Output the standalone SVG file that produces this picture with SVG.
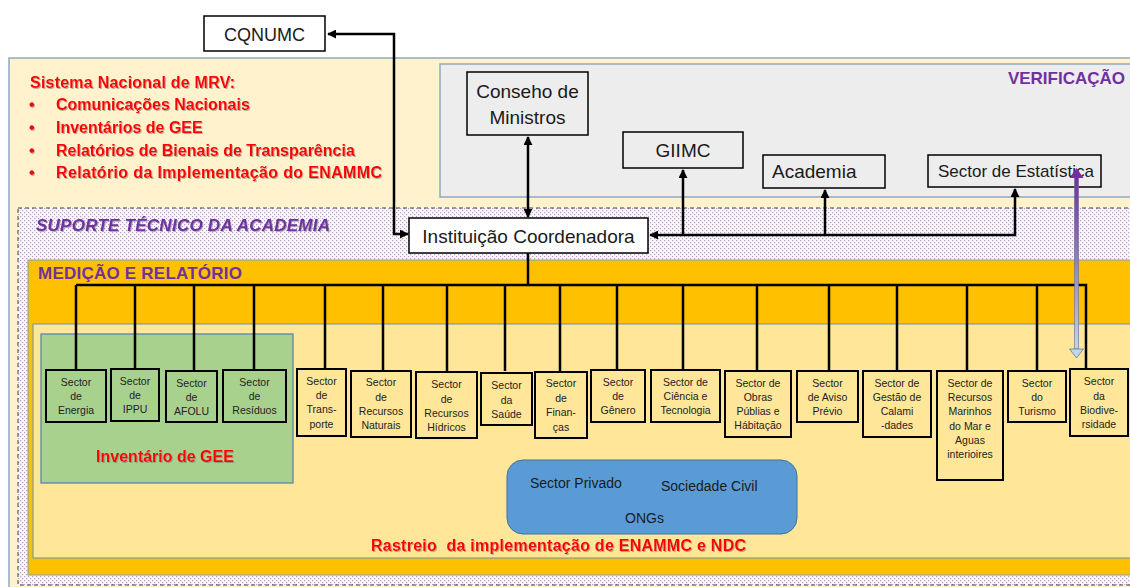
<svg xmlns="http://www.w3.org/2000/svg" width="1130" height="587" viewBox="0 0 1130 587">
<defs>
<style>
.t{font-family:"Liberation Sans",Arial,sans-serif;fill:#1a1a1a}
.big{font-size:19px}
.sec{font-size:10.5px;text-anchor:middle;fill:#222}
.red{font-family:"Liberation Sans",Arial,sans-serif;font-weight:bold;fill:#FF0000;font-size:16px}
.pur{font-family:"Liberation Sans",Arial,sans-serif;font-weight:bold;fill:#7030A0;font-size:17px}
.node{stroke:#000;stroke-width:1.5}
.sbox{stroke:#000;stroke-width:2}
.con{fill:none;stroke:#000;stroke-width:2.5}
.drop{fill:none;stroke:#000;stroke-width:2.5}
</style>
<pattern id="dots" width="4" height="4" patternUnits="userSpaceOnUse">
<rect width="4" height="4" fill="#FBF8FD"/>
<rect x="0" y="0" width="1.2" height="1.2" fill="#B89ACF"/>
<rect x="2" y="2" width="1.2" height="1.2" fill="#B89ACF"/>
</pattern>
<marker id="ah" viewBox="0 0 10 10" refX="9" refY="5" markerUnits="userSpaceOnUse" markerWidth="9" markerHeight="9" orient="auto-start-reverse">
<path d="M0,0 L10,5 L0,10 z" fill="#000"/>
</marker>
<linearGradient id="pg" x1="0" y1="0" x2="0" y2="1">
<stop offset="0" stop-color="#7030A0"/>
<stop offset="0.45" stop-color="#8E7BB8"/>
<stop offset="1" stop-color="#BDD7EE"/>
</linearGradient>
<filter id="sh" x="-5%" y="-20%" width="110%" height="150%">
<feDropShadow dx="1" dy="1" stdDeviation="0.6" flood-color="#777" flood-opacity="0.55"/>
</filter>
</defs>

<g id="backgrounds">
<rect x="9" y="58" width="1130" height="540" fill="#FFF2CC" stroke="#8EA9C1" stroke-width="1.5"/>
<rect x="440" y="64" width="700" height="133" fill="#EDEDED" stroke="#8EA9C1" stroke-width="1.5"/>
<rect x="18" y="208" width="1120" height="377" fill="url(#dots)" stroke="#404040" stroke-width="1" stroke-dasharray="4 3"/>
<rect x="28" y="260" width="1110" height="315" fill="#FFC000" stroke="#7F9DB9" stroke-width="1"/>
<rect x="33" y="324" width="1105" height="234" fill="#FFE699" stroke="#6A8FBF" stroke-width="1"/>
<rect x="41" y="334" width="252" height="149" fill="#A9D18E" stroke="#5B84B1" stroke-width="1.3"/>
<rect x="507" y="460" width="290" height="74" rx="16" fill="#5B9BD5" stroke="#41719C" stroke-width="1"/>
</g>

<g id="labels">
<text class="red" x="30" y="88" textLength="205" filter="url(#sh)">Sistema Nacional de MRV:</text>
<text class="red" x="29" y="110" filter="url(#sh)">•</text>
<text class="red" x="56" y="110" filter="url(#sh)">Comunicações Nacionais</text>
<text class="red" x="29" y="133" filter="url(#sh)">•</text>
<text class="red" x="56" y="133" filter="url(#sh)">Inventários de GEE</text>
<text class="red" x="29" y="156" filter="url(#sh)">•</text>
<text class="red" x="56" y="156" filter="url(#sh)">Relatórios de Bienais de Transparência</text>
<text class="red" x="29" y="178" filter="url(#sh)">•</text>
<text class="red" x="56" y="178" textLength="326" filter="url(#sh)">Relatório da Implementação do ENAMMC</text>
<text class="pur" x="1125" y="84" text-anchor="end">VERIFICAÇÃO</text>
<text class="pur" x="36" y="231" font-style="italic" textLength="294" filter="url(#sh)">SUPORTE TÉCNICO DA ACADEMIA</text>
<text class="pur" x="38" y="279" textLength="204">MEDIÇÃO E RELATÓRIO</text>
<text class="red" x="165" y="462" text-anchor="middle" filter="url(#sh)">Inventário de GEE</text>
<text class="red" x="371" y="551" font-size="16.5" textLength="375" filter="url(#sh)" xml:space="preserve">Rastreio  da implementação de ENAMMC e NDC</text>
<text class="t" x="530" y="488" font-size="14">Sector Privado</text>
<text class="t" x="661" y="491" font-size="14">Sociedade Civil</text>
<text class="t" x="625" y="523" font-size="14">ONGs</text>
</g>

<g id="node-cqnumc">
<rect class="node" x="204" y="16" width="121" height="35" fill="#fff"/>
<text class="t" x="264.5" y="41" font-size="18" text-anchor="middle">CQNUMC</text>
</g>
<g id="node-conselho">
<rect class="node" x="467" y="72" width="121" height="63" fill="#EDEDED"/>
<text class="t big" x="527.5" y="98" text-anchor="middle">Conseho de</text>
<text class="t big" x="527.5" y="124" text-anchor="middle">Ministros</text>
</g>
<g id="node-giimc">
<rect class="node" x="623" y="132" width="120" height="36" fill="#EDEDED"/>
<text class="t big" x="683" y="157" text-anchor="middle">GIIMC</text>
</g>
<g id="node-academia">
<rect class="node" x="763" y="155" width="122" height="33" fill="#EDEDED"/>
<text class="t big" x="772" y="178">Academia</text>
</g>
<g id="node-estatistica">
<rect class="node" x="928" y="155" width="173" height="32" fill="#EDEDED"/>
<text class="t" x="938" y="177" font-size="17">Sector de Estatística</text>
</g>
<g id="node-instituicao">
<rect class="node" x="409" y="218" width="239" height="35" fill="#fff"/>
<text class="t big" x="528.5" y="243" text-anchor="middle">Instituição Coordenadora</text>
</g>

<g id="node-energia">
<rect class="sbox" x="46" y="370" width="60" height="52" fill="#A9D18E"/>
<text class="t sec"><tspan x="76" y="386">Sector</tspan><tspan x="76" y="400">de</tspan><tspan x="76" y="414">Energia</tspan></text>
</g>
<g id="node-ippu">
<rect class="sbox" x="111" y="369" width="48" height="52" fill="#A9D18E"/>
<text class="t sec"><tspan x="135" y="385">Sector</tspan><tspan x="135" y="399">de</tspan><tspan x="135" y="413">IPPU</tspan></text>
</g>
<g id="node-afolu">
<rect class="sbox" x="166" y="371" width="51" height="51" fill="#A9D18E"/>
<text class="t sec"><tspan x="191.5" y="387">Sector</tspan><tspan x="191.5" y="401">de</tspan><tspan x="191.5" y="415">AFOLU</tspan></text>
</g>
<g id="node-residuos">
<rect class="sbox" x="223" y="370" width="63" height="52" fill="#A9D18E"/>
<text class="t sec"><tspan x="254.5" y="386">Sector</tspan><tspan x="254.5" y="400">de</tspan><tspan x="254.5" y="414">Resíduos</tspan></text>
</g>
<g id="node-transporte">
<rect class="sbox" x="297" y="369" width="49" height="67" fill="#FFE699"/>
<text class="t sec"><tspan x="321.5" y="385">Sector</tspan><tspan x="321.5" y="399">de</tspan><tspan x="321.5" y="413">Trans-</tspan><tspan x="321.5" y="428">porte</tspan></text>
</g>
<g id="node-naturais">
<rect class="sbox" x="351" y="371" width="60" height="66" fill="#FFE699"/>
<text class="t sec"><tspan x="381" y="386">Sector</tspan><tspan x="381" y="401">de</tspan><tspan x="381" y="415">Recursos</tspan><tspan x="381" y="429">Naturais</tspan></text>
</g>
<g id="node-hidricos">
<rect class="sbox" x="416" y="372" width="61" height="66" fill="#FFE699"/>
<text class="t sec"><tspan x="446.5" y="388">Sector</tspan><tspan x="446.5" y="403">de</tspan><tspan x="446.5" y="417">Recursos</tspan><tspan x="446.5" y="431">Hídricos</tspan></text>
</g>
<g id="node-saude">
<rect class="sbox" x="481" y="373" width="51" height="52" fill="#FFE699"/>
<text class="t sec"><tspan x="506.5" y="389">Sector</tspan><tspan x="506.5" y="404">da</tspan><tspan x="506.5" y="418">Saúde</tspan></text>
</g>
<g id="node-financas">
<rect class="sbox" x="535" y="372" width="52" height="66" fill="#FFE699"/>
<text class="t sec"><tspan x="561" y="387">Sector</tspan><tspan x="561" y="402">de</tspan><tspan x="561" y="416">Finan-</tspan><tspan x="561" y="431">ças</tspan></text>
</g>
<g id="node-genero">
<rect class="sbox" x="591" y="370" width="54" height="52" fill="#FFE699"/>
<text class="t sec"><tspan x="618" y="386">Sector</tspan><tspan x="618" y="400">de</tspan><tspan x="618" y="414">Gênero</tspan></text>
</g>
<g id="node-ciencia">
<rect class="sbox" x="651" y="370" width="69" height="52" fill="#FFE699"/>
<text class="t sec"><tspan x="685.5" y="386">Sector de</tspan><tspan x="685.5" y="400">Ciência e</tspan><tspan x="685.5" y="414">Tecnologia</tspan></text>
</g>
<g id="node-obras">
<rect class="sbox" x="725" y="371" width="66" height="66" fill="#FFE699"/>
<text class="t sec"><tspan x="758" y="387">Sector de</tspan><tspan x="758" y="401">Obras</tspan><tspan x="758" y="415">Públias e</tspan><tspan x="758" y="429">Hábitação</tspan></text>
</g>
<g id="node-aviso">
<rect class="sbox" x="797" y="371" width="61" height="51" fill="#FFE699"/>
<text class="t sec"><tspan x="827.5" y="387">Sector</tspan><tspan x="827.5" y="401">de Aviso</tspan><tspan x="827.5" y="415">Prévio</tspan></text>
</g>
<g id="node-calamidades">
<rect class="sbox" x="863" y="371" width="68" height="66" fill="#FFE699"/>
<text class="t sec"><tspan x="897" y="387">Sector de</tspan><tspan x="897" y="401">Gestão de</tspan><tspan x="897" y="415">Calami</tspan><tspan x="897" y="429">-dades</tspan></text>
</g>
<g id="node-marinhos">
<rect class="sbox" x="937" y="371" width="66" height="109" fill="#FFE699"/>
<text class="t sec"><tspan x="970" y="387">Sector de</tspan><tspan x="970" y="401">Recursos</tspan><tspan x="970" y="415">Marinhos</tspan><tspan x="970" y="430">do Mar e</tspan><tspan x="970" y="444">Aguas</tspan><tspan x="970" y="458">interioires</tspan></text>
</g>
<g id="node-turismo">
<rect class="sbox" x="1008" y="371" width="58" height="51" fill="#FFE699"/>
<text class="t sec"><tspan x="1037" y="387">Sector</tspan><tspan x="1037" y="401">do</tspan><tspan x="1037" y="415">Turismo</tspan></text>
</g>
<g id="node-biodiversidade">
<rect class="sbox" x="1070" y="369" width="58" height="67" fill="#FFE699"/>
<text class="t sec"><tspan x="1099" y="385">Sector</tspan><tspan x="1099" y="400">da</tspan><tspan x="1099" y="414">Biodive-</tspan><tspan x="1099" y="428">rsidade</tspan></text>
</g>

<g id="connectors">
<path class="con" d="M408,234 L394,234 L394,34 L328,34" marker-start="url(#ah)" marker-end="url(#ah)"/>
<path class="con" d="M528,137 L528,217" marker-start="url(#ah)" marker-end="url(#ah)"/>
<path class="con" d="M650,235 L1015,235 L1015,189" marker-start="url(#ah)" marker-end="url(#ah)"/>
<path class="con" d="M683,235 L683,170" marker-end="url(#ah)"/>
<path class="con" d="M825,235 L825,190" marker-end="url(#ah)"/>
<path class="drop" d="M528,253 L528,285"/>
<path class="drop" d="M76,285 L1086,285 L1086,369"/>
<path class="drop" d="M76,285 V370 M135,285 V369 M194,285 V371 M254,285 V370 M325,285 V369 M383,285 V371 M447,285 V372 M505,285 V371 M560,285 V372 M617,285 V370 M683,285 V370 M757,285 V371 M829,285 V371 M897,285 V371 M967,285 V371 M1037,285 V371"/>
<g id="purple-arrow">
<rect x="1074.5" y="177" width="4" height="172" fill="url(#pg)" stroke="#6A6A8A" stroke-width="0.6"/>
<path d="M1069.5,178 L1076.5,168 L1083.5,178 z" fill="#7030A0"/>
<path d="M1069.5,349 L1083.5,349 L1076.5,358 z" fill="#BDD7EE" stroke="#6A7A8A" stroke-width="0.8"/>
</g>
</g>
</svg>
